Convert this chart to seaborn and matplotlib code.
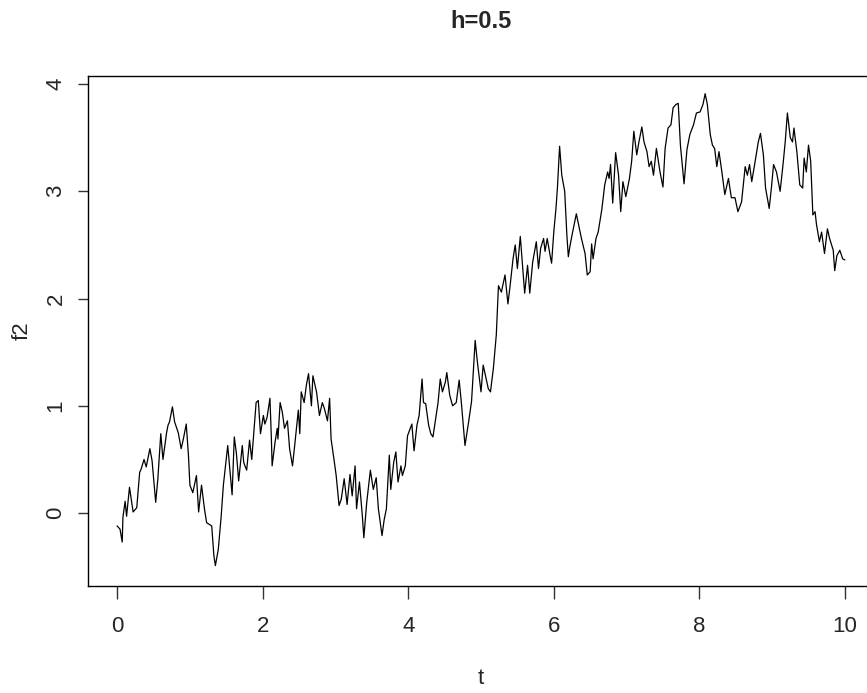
import matplotlib
matplotlib.use("Agg")
import matplotlib.pyplot as plt
import seaborn as sns
import pandas as pd

# sampled path of the process f2 over time t
t = [0.00, 0.04, 0.07, 0.08, 0.11, 0.13, 0.17, 0.22, 0.27, 0.31, 0.33, 0.37, 0.40, 0.45, 0.48,
     0.53, 0.56, 0.60, 0.63, 0.68, 0.70, 0.72, 0.76, 0.79, 0.84, 0.88, 0.91, 0.95, 0.98, 1.00,
     1.04, 1.09, 1.12, 1.16, 1.20, 1.23, 1.30, 1.33, 1.35, 1.39, 1.43, 1.46, 1.52, 1.58, 1.61,
     1.64, 1.67, 1.72, 1.74, 1.78, 1.82, 1.85, 1.91, 1.94, 1.97, 2.01, 2.03, 2.06, 2.10, 2.12,
     2.13, 2.17, 2.20, 2.21, 2.24, 2.27, 2.30, 2.34, 2.37, 2.41, 2.44, 2.49, 2.51, 2.53, 2.57,
     2.60, 2.63, 2.67, 2.69, 2.74, 2.78, 2.82, 2.85, 2.89, 2.92, 2.94, 2.98, 3.01, 3.05, 3.08,
     3.12, 3.16, 3.20, 3.23, 3.27, 3.29, 3.33, 3.37, 3.39, 3.43, 3.48, 3.52, 3.56, 3.59, 3.64,
     3.67, 3.70, 3.74, 3.76, 3.80, 3.83, 3.86, 3.90, 3.92, 3.96, 3.99, 4.05, 4.08, 4.12, 4.15,
     4.19, 4.21, 4.24, 4.28, 4.31, 4.34, 4.38, 4.41, 4.44, 4.47, 4.51, 4.53, 4.57, 4.61, 4.66,
     4.70, 4.73, 4.78, 4.83, 4.87, 4.92, 4.95, 5.00, 5.03, 5.08, 5.10, 5.13, 5.17, 5.21, 5.24,
     5.28, 5.33, 5.37, 5.40, 5.44, 5.47, 5.50, 5.54, 5.57, 5.60, 5.64, 5.67, 5.71, 5.76, 5.79,
     5.82, 5.86, 5.88, 5.91, 5.95, 5.97, 6.00, 6.03, 6.05, 6.08, 6.11, 6.15, 6.18, 6.20, 6.22,
     6.25, 6.29, 6.31, 6.34, 6.38, 6.43, 6.46, 6.50, 6.52, 6.54, 6.58, 6.61, 6.66, 6.70, 6.74,
     6.76, 6.78, 6.81, 6.83, 6.85, 6.89, 6.92, 6.95, 6.99, 7.04, 7.07, 7.10, 7.14, 7.17, 7.21,
     7.24, 7.28, 7.31, 7.34, 7.37, 7.41, 7.46, 7.50, 7.53, 7.57, 7.61, 7.64, 7.68, 7.71, 7.74,
     7.79, 7.83, 7.87, 7.92, 7.96, 8.01, 8.05, 8.08, 8.11, 8.15, 8.18, 8.21, 8.24, 8.27, 8.31,
     8.35, 8.40, 8.44, 8.49, 8.53, 8.58, 8.63, 8.66, 8.69, 8.72, 8.76, 8.81, 8.84, 8.88, 8.91,
     8.96, 8.99, 9.02, 9.06, 9.11, 9.15, 9.18, 9.21, 9.25, 9.28, 9.30, 9.34, 9.38, 9.42, 9.44,
     9.47, 9.50, 9.53, 9.56, 9.59, 9.61, 9.65, 9.68, 9.72, 9.76, 9.79, 9.84, 9.86, 9.89, 9.93,
     9.97, 10.00]

f2 = [-0.12, -0.15, -0.27, -0.04, 0.11, -0.03, 0.24, 0.01, 0.05, 0.38, 0.41, 0.50, 0.43, 0.60, 0.49,
      0.10, 0.32, 0.74, 0.50, 0.75, 0.82, 0.85, 0.99, 0.85, 0.75, 0.60, 0.69, 0.83, 0.54, 0.26,
      0.19, 0.35, 0.01, 0.26, 0.04, -0.09, -0.12, -0.40, -0.49, -0.34, -0.03, 0.26, 0.63, 0.17, 0.71,
      0.55, 0.30, 0.63, 0.47, 0.40, 0.68, 0.50, 1.03, 1.05, 0.74, 0.91, 0.83, 0.89, 1.07, 0.69,
      0.44, 0.66, 0.79, 0.69, 1.03, 0.94, 0.79, 0.86, 0.60, 0.44, 0.63, 0.96, 0.74, 1.13, 1.03,
      1.19, 1.30, 1.00, 1.28, 1.13, 0.91, 1.03, 0.97, 0.86, 1.07, 0.69, 0.50, 0.35, 0.07, 0.13,
      0.32, 0.08, 0.36, 0.16, 0.44, 0.04, 0.29, -0.03, -0.23, 0.10, 0.40, 0.22, 0.33, 0.04, -0.21,
      -0.06, 0.04, 0.54, 0.22, 0.47, 0.57, 0.29, 0.44, 0.35, 0.44, 0.72, 0.83, 0.58, 0.82, 0.91,
      1.25, 1.03, 1.02, 0.82, 0.74, 0.71, 0.89, 1.03, 1.25, 1.13, 1.22, 1.31, 1.10, 1.00, 1.03,
      1.24, 1.03, 0.63, 0.85, 1.04, 1.61, 1.41, 1.13, 1.38, 1.22, 1.16, 1.13, 1.35, 1.66, 2.12,
      2.06, 2.22, 1.95, 2.12, 2.37, 2.50, 2.28, 2.58, 2.31, 2.05, 2.31, 2.05, 2.34, 2.53, 2.28,
      2.47, 2.56, 2.44, 2.56, 2.40, 2.33, 2.62, 2.84, 3.03, 3.42, 3.15, 3.00, 2.59, 2.39, 2.48,
      2.59, 2.72, 2.79, 2.69, 2.56, 2.42, 2.22, 2.25, 2.51, 2.37, 2.56, 2.62, 2.83, 3.06, 3.18,
      3.12, 3.25, 2.89, 3.12, 3.36, 3.15, 2.81, 3.09, 2.95, 3.12, 3.28, 3.56, 3.34, 3.46, 3.60,
      3.46, 3.37, 3.23, 3.28, 3.15, 3.40, 3.18, 3.04, 3.40, 3.59, 3.62, 3.78, 3.81, 3.82, 3.43,
      3.07, 3.39, 3.53, 3.62, 3.73, 3.74, 3.81, 3.91, 3.81, 3.53, 3.43, 3.40, 3.23, 3.37, 3.18,
      2.97, 3.12, 2.94, 2.94, 2.81, 2.90, 3.23, 3.15, 3.25, 3.09, 3.25, 3.46, 3.54, 3.34, 3.03,
      2.84, 3.03, 3.25, 3.18, 3.00, 3.25, 3.46, 3.73, 3.50, 3.46, 3.59, 3.37, 3.06, 3.03, 3.31,
      3.18, 3.43, 3.28, 2.78, 2.81, 2.69, 2.53, 2.62, 2.42, 2.65, 2.56, 2.45, 2.26, 2.40, 2.45,
      2.37, 2.36]

x_ticks = [0, 2, 4, 6, 8, 10]
y_ticks = [0, 1, 2, 3, 4]

sns.set_style("white")
plt.rcParams["font.family"] = ["Liberation Sans Narrow", "Liberation Sans", "DejaVu Sans"]

W, H = 867, 693
fig = plt.figure(figsize=(W / 100, H / 100), dpi=100)
ax = fig.add_axes([88 / W, 1 - 586 / H, (874 - 88) / W, (586 - 76) / H])

df = pd.DataFrame({"t": t, "f2": f2})
sns.lineplot(data=df, x="t", y="f2", ax=ax, color="black", linewidth=0.9,
             sort=False, estimator=None)

ax.set_xlim(-0.4, 10.4)
ax.set_ylim(-0.68, 4.075)
ax.set_xticks(x_ticks)
ax.set_yticks(y_ticks)
ax.set_xticklabels([str(v) for v in x_ticks])
ax.set_yticklabels([str(v) for v in y_ticks], rotation=90, va="center")

for s in ax.spines.values():
    s.set_visible(True)
    s.set_color("black")
    s.set_linewidth(1.0)

ax.tick_params(axis="x", direction="out", length=9.5, width=1.0, color="#333333",
               labelsize=16, pad=12, bottom=True)
ax.tick_params(axis="y", direction="out", length=7.5, width=1.0, color="#333333",
               labelsize=16, pad=8, left=True)

ax.set_xlabel("t", fontsize=16)
ax.set_ylabel("f2", fontsize=16)
ax.xaxis.set_label_coords((481 - 88) / (874 - 88), (586 - 679) / (586 - 76))
ax.xaxis.label.set_va("center")
ax.yaxis.set_label_coords((22 - 88) / (874 - 88), 0.5)
ax.yaxis.label.set_va("center")

fig.text(481 / W, 1 - 22 / H, "h=0.5", ha="center", va="center",
         fontsize=17, fontweight="bold")

fig.savefig("out.png", dpi=100)
